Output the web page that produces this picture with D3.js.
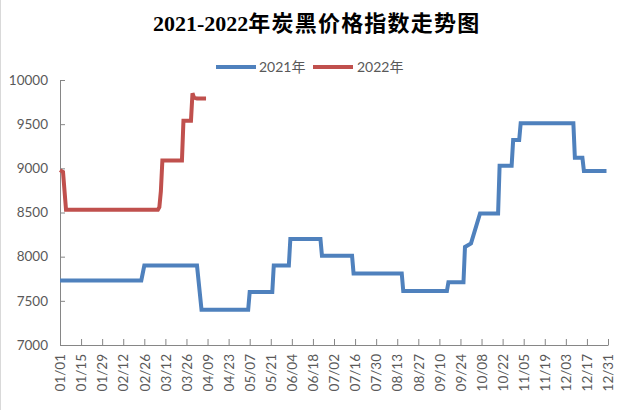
<!DOCTYPE html>
<html><head><meta charset="utf-8">
<script src="https://cdn.jsdelivr.net/npm/d3@7"></script>
<style>
html,body{margin:0;padding:0;background:#fff;}
svg{display:block;}
</style></head>
<body>
<svg id="c" width="624" height="410"></svg>
<script>
const titleNum = "2021-2022";
const titleCJK = "年炭黑价格指数走势图";
const seriesNames = ["2021年", "2022年"];
const seriesColors = ["#4F81BD", "#C0504D"];
const tickLabels = ["01/01","01/15","01/29","02/12","02/26","03/12","03/26","04/09","04/23","05/07","05/21","06/04","06/18","07/02","07/16","07/30","08/13","08/27","09/10","09/24","10/08","10/22","11/05","11/19","12/03","12/17","12/31"];
const yTicks = [7000, 7500, 8000, 8500, 9000, 9500, 10000];

// 2021 breakpoints (MM/DD) and values
const dates2021 = ["01/01","02/24","02/26","04/02","04/05","05/06","05/07","05/22","05/23","06/02","06/03","06/23","06/24","07/14","07/15","08/16","08/17","09/15","09/16","09/26","09/27","10/01","10/07","10/19","10/20","10/28","10/29","11/02","11/03","12/08","12/09","12/14","12/15","12/30"];
const values2021 = [7730,7730,7900,7900,7400,7400,7600,7600,7900,7900,8200,8200,8010,8010,7810,7810,7610,7610,7710,7710,8110,8150,8490,8490,9030,9030,9320,9320,9510,9510,9120,9120,8970,8970];

// 2022 breakpoints (MM/DD) and values
const dates2022 = ["01/01","01/03","01/05","03/07","03/08","03/09","03/10","03/23","03/24","03/29","03/30","03/31","04/02","04/08"];
const values2022 = [8980,8960,8530,8530,8560,8740,9090,9090,9540,9540,9850,9800,9790,9790];

const svg = d3.select("#c");
const W = 624, H = 410;
const parse = s => d3.timeParse("%Y/%m/%d")("2021/" + s);

const x = d3.scaleTime()
  .domain([parse("01/01"), parse("12/31")])
  .range([60, 608]);
const y = d3.scaleLinear().domain([7000, 10000]).range([345, 80]);

const font = "Lato, 'Noto Sans CJK SC', sans-serif";

// left border line
svg.append("line").attr("x1",0.5).attr("x2",0.5).attr("y1",0).attr("y2",H)
  .attr("stroke","#d9d9d9").attr("stroke-width",1);

// title
const t = svg.append("text").attr("x", 153).attr("y", 31)
  .attr("font-weight","bold").attr("font-size", 22).attr("fill","#000");
t.append("tspan").attr("font-family","'Liberation Serif', serif").text(titleNum);
t.append("tspan").attr("font-family","'Noto Sans CJK SC', sans-serif")
  .attr("letter-spacing", 1.2).text(titleCJK);

// legend
const legItems = [{x:216, tx:259}, {x:313, tx:357}];
seriesNames.forEach((n,i)=>{
  const g = svg.append("g");
  g.append("line").attr("x1",legItems[i].x).attr("x2",legItems[i].x+40)
    .attr("y1",67).attr("y2",67).attr("stroke",seriesColors[i]).attr("stroke-width",4);
  g.append("text").attr("x",legItems[i].tx).attr("y",72)
    .attr("font-family",font).attr("font-size",14).attr("fill","#595959").text(n);
});

// y axis
const yAxis = d3.axisRight(y).tickValues(yTicks).tickSize(5).tickFormat(d=>d);
const gy = svg.append("g").attr("transform","translate(60,0)").call(yAxis);
gy.select(".domain").attr("stroke","#868686").attr("d","M5,80.5H0.5V345.5");
gy.selectAll(".tick line").attr("stroke","#868686");
gy.selectAll(".tick text").attr("x",-12).attr("text-anchor","end")
  .attr("font-family",font).attr("font-size",13.5).attr("fill","#595959");

// x axis
const tickDates = tickLabels.map(parse);
const xAxis = d3.axisTop(x).tickValues(tickDates).tickSize(6)
  .tickFormat((d,i)=>tickLabels[i]);
const gx = svg.append("g").attr("transform","translate(0,345)").call(xAxis);
gx.select(".domain").attr("stroke","#868686").attr("d","M60.5,0.5H608.5");
gx.selectAll(".tick line").attr("stroke","#868686");
gx.selectAll(".tick text")
  .attr("transform","rotate(-90)")
  .attr("x",-9).attr("y",0).attr("dy","0.35em")
  .attr("text-anchor","end")
  .attr("font-family",font).attr("font-size",13.5).attr("fill","#595959");

// lines
const line = d3.line().x(d=>x(d[0])).y(d=>y(d[1]));
const d21 = dates2021.map((d,i)=>[parse(d), values2021[i]]);
const d22 = dates2022.map((d,i)=>[parse(d), values2022[i]]);
[d21, d22].forEach((data,i)=>{
  svg.append("path").datum(data).attr("d",line)
    .attr("fill","none").attr("stroke",seriesColors[i])
    .attr("stroke-width",4).attr("stroke-linejoin","miter");
});
</script>
</body></html>
